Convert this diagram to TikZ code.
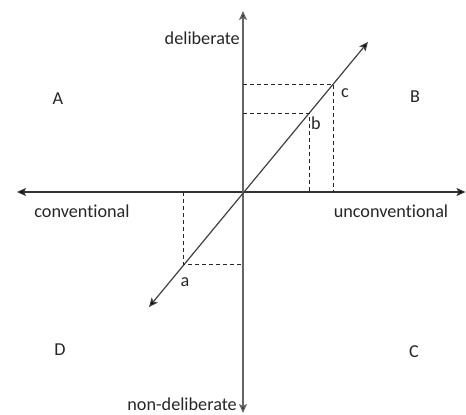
\documentclass[tikz,border=0pt]{standalone}
\usepackage{fontspec}
\setmainfont{Carlito}[Ligatures={NoCommon}]
\usetikzlibrary{arrows.meta}
\begin{document}
\begin{tikzpicture}[x=1pt,y=-1pt,
  lbl/.style={inner sep=0pt, font=\fontsize{18.2}{21}\selectfont, text=black!85},
  tip/.tip={Stealth[length=9pt,width=8pt,inset=2pt,fill=black]},
  axis/.style={line width=1.2pt, draw=black!80, tip-tip},
  vaxis/.style={line width=1.4pt, draw=black!60, tip-tip},
  diag/.style={line width=1.2pt, draw=black!75, tip-tip},
  guide/.style={line width=0.9pt, draw=black!85, dash pattern=on 4pt off 3pt}]
\useasboundingbox (0,0) rectangle (466,415);
% axes
\coordinate (O) at (243,192);
\coordinate (W) at (17,192);
\coordinate (E) at (465.5,192);
\coordinate (N) at (243,11);
\coordinate (S) at (243,413);
\coordinate (SW) at (149,307);
\coordinate (NE) at (368,42);
\draw[axis] (W) -- (E);
\draw[vaxis] (N) -- (S);
\draw[diag] (SW) -- (NE);
% points on diagonal
\coordinate (pa) at (183,264);
\coordinate (pb) at (309,113);
\coordinate (pc) at (333,84);
\coordinate (pay) at (243,264);
\coordinate (pax) at (183,192);
\coordinate (pby) at (243,113);
\coordinate (pbx) at (309,192);
\coordinate (pcy) at (243,84);
\coordinate (pcx) at (333,192);
\draw[guide] (pax) -- (pa) -- (pay);
\draw[guide] (pby) -- (pb) -- (pbx);
\draw[guide] (pcy) -- (pc) -- (pcx);
% labels
\node[lbl, anchor=east] (del) at (240,38) {deliberate};
\node[lbl, anchor=east] (ndel) at (237,404) {non-deliberate};
\node[lbl] (conv) at (82,211) {conventional};
\node[lbl] (unconv) at (391,211) {unconventional};
\node[lbl] (qA) at (58,99) {A};
\node[lbl] (qB) at (415,97) {B};
\node[lbl] (qC) at (414,352) {C};
\node[lbl] (qD) at (60,350) {D};
\node[lbl] (la) at (185,282) {a};
\node[lbl] (lb) at (316,123) {b};
\node[lbl] (lc) at (345,93) {c};
\end{tikzpicture}
\end{document}
